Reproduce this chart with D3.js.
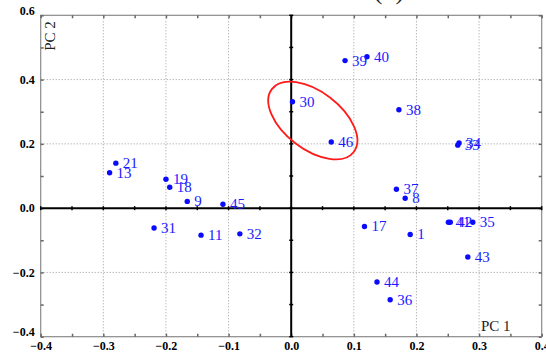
<!DOCTYPE html>
<html>
<head>
<meta charset="utf-8">
<script src="https://cdn.jsdelivr.net/npm/d3@7/dist/d3.min.js"></script>
<style>
  html, body { margin: 0; padding: 0; background: #fff; }
  svg { display: block; }
</style>
</head>
<body>
<script>
// ---- data ----
const labels = ["30","46","39","40","38","34","33","37","8","17","1","41","42","35","43","44","36","21","13","19","18","9","45","31","11","32"];
const pc1 = [0.002,0.064,0.086,0.121,0.172,0.268,0.266,0.168,0.182,0.117,0.190,0.251,0.254,0.290,0.282,0.137,0.158,-0.280,-0.290,-0.200,-0.194,-0.166,-0.109,-0.219,-0.144,-0.082];
const pc2 = [0.331,0.206,0.459,0.471,0.306,0.203,0.196,0.059,0.031,-0.057,-0.082,-0.044,-0.044,-0.044,-0.152,-0.230,-0.285,0.140,0.110,0.090,0.065,0.021,0.012,-0.062,-0.084,-0.080];
const xTicks = [-0.4,-0.3,-0.2,-0.1,0.0,0.1,0.2,0.3,0.4];
const yTicks = [-0.4,-0.2,0.0,0.2,0.4,0.6];
const xGrid = [-0.3,-0.2,-0.1,0.1,0.2,0.3];
const yGrid = [-0.2,0.2,0.4];
const ellipseCenter = [0.0345, 0.2726];
const titleText = "(b)";
const xAxisTitle = "PC 1";
const yAxisTitle = "PC 2";

const W = 546, H = 355;
const L = 40.7, R = 541.7, T = 15.3, B = 336.7;

const svg = d3.select("body").append("svg").attr("width", W).attr("height", H);
const x = d3.scaleLinear().domain([-0.4, 0.4]).range([L, R]);
const y = d3.scaleLinear().domain([-0.4, 0.6]).range([B, T]);

// title (cropped at top, as in reference)
svg.append("text").attr("x", 389).attr("y", -1).attr("text-anchor", "middle")
  .attr("font-family", "Liberation Serif").attr("font-size", 26).attr("fill", "#222")
  .text(titleText);

// grid
const g = svg.append("g");
g.selectAll(".vg").data(xGrid).join("line")
  .attr("x1", d => x(d)).attr("x2", d => x(d)).attr("y1", T).attr("y2", B)
  .attr("stroke", "#9a9a9a").attr("stroke-width", 1).attr("stroke-dasharray", "1,2");
g.selectAll(".hg").data(yGrid).join("line")
  .attr("y1", d => y(d)).attr("y2", d => y(d)).attr("x1", L).attr("x2", R)
  .attr("stroke", "#9a9a9a").attr("stroke-width", 1).attr("stroke-dasharray", "1,2");

// frame
svg.append("rect").attr("x", L).attr("y", T).attr("width", R - L).attr("height", B - T)
  .attr("fill", "none").attr("stroke", "#8a8a8a").attr("stroke-width", 1.2);

// frame ticks via d3 axes (inner ticks, no labels)
const xMinor = d3.range(-0.4, 0.401, 0.05);
const yMinor = d3.range(-0.4, 0.601, 0.1);
function tickAxis(axis, tf) {
  const a = svg.append("g").attr("transform", tf).call(axis);
  a.select(".domain").remove();
  a.selectAll("text").remove();
  a.selectAll(".tick line").attr("stroke", "#666").attr("stroke-width", 1.5);
}
tickAxis(d3.axisBottom(x).tickValues(xMinor).tickSize(-3), `translate(0,${B})`);
tickAxis(d3.axisTop(x).tickValues(xMinor).tickSize(-3), `translate(0,${T})`);
tickAxis(d3.axisLeft(y).tickValues(yMinor).tickSize(-3), `translate(${L},0)`);
tickAxis(d3.axisRight(y).tickValues(yMinor).tickSize(-3), `translate(${R},0)`);

// zero lines
svg.append("line").attr("x1", L).attr("x2", R).attr("y1", y(0)).attr("y2", y(0))
  .attr("stroke", "#000").attr("stroke-width", 2);
svg.append("line").attr("x1", x(0)).attr("x2", x(0)).attr("y1", T).attr("y2", B)
  .attr("stroke", "#000").attr("stroke-width", 2);
// ticks on zero lines
svg.append("g").selectAll("line").data(xMinor).join("line")
  .attr("x1", d => x(d)).attr("x2", d => x(d)).attr("y1", y(0) - 2).attr("y2", y(0) + 2)
  .attr("stroke", "#000").attr("stroke-width", 1.5);
svg.append("g").selectAll("line").data(yMinor).join("line")
  .attr("y1", d => y(d)).attr("y2", d => y(d)).attr("x1", x(0) - 2).attr("x2", x(0) + 2)
  .attr("stroke", "#000").attr("stroke-width", 1.5);

// tick labels
const xl = svg.append("g").attr("transform", `translate(0,${B})`)
  .call(d3.axisBottom(x).tickValues(xTicks).tickSize(0).tickPadding(0).tickFormat(d3.format(".1f")));
xl.select(".domain").remove();
xl.selectAll("text").attr("font-family", "Liberation Serif").attr("font-weight", "bold")
  .attr("font-size", 12).attr("fill", "#000").attr("dy", null).attr("y", 13);

const yl = svg.append("g").attr("transform", `translate(${L},0)`)
  .call(d3.axisLeft(y).tickValues(yTicks).tickSize(0).tickPadding(6).tickFormat(d3.format(".1f")));
yl.select(".domain").remove();
yl.selectAll("text").attr("font-family", "Liberation Serif").attr("font-weight", "bold")
  .attr("font-size", 12).attr("fill", "#000")
  .attr("y", d => (d === 0.6 || d === -0.4) ? -5 : 0);

// axis titles
svg.append("text").attr("transform", `translate(55,36) rotate(-90)`).attr("text-anchor", "middle")
  .attr("font-family", "Liberation Serif").attr("font-size", 15).attr("fill", "#222").text(yAxisTitle);
svg.append("text").attr("x", 481).attr("y", 331)
  .attr("font-family", "Liberation Serif").attr("font-size", 15).attr("fill", "#222").text(xAxisTitle);

// ellipse
svg.append("ellipse")
  .attr("transform", `translate(${x(ellipseCenter[0])},${y(ellipseCenter[1])}) rotate(37.5)`)
  .attr("rx", 51.6).attr("ry", 28.7)
  .attr("fill", "none").attr("stroke", "#ff1a1a").attr("stroke-width", 1.8);

// points
const pts = labels.map((l, i) => ({ l, x: pc1[i], y: pc2[i] }));
const pg = svg.append("g");
pg.selectAll("circle").data(pts).join("circle")
  .attr("cx", d => x(d.x)).attr("cy", d => y(d.y)).attr("r", 2.7).attr("fill", "#0a0aff");
pg.selectAll("text").data(pts).join("text")
  .attr("x", d => x(d.x) + 7).attr("y", d => y(d.y) + 5)
  .attr("font-family", "Liberation Serif").attr("font-size", 15).attr("fill", "#1a1aff")
  .text(d => d.l);
</script>
</body>
</html>
